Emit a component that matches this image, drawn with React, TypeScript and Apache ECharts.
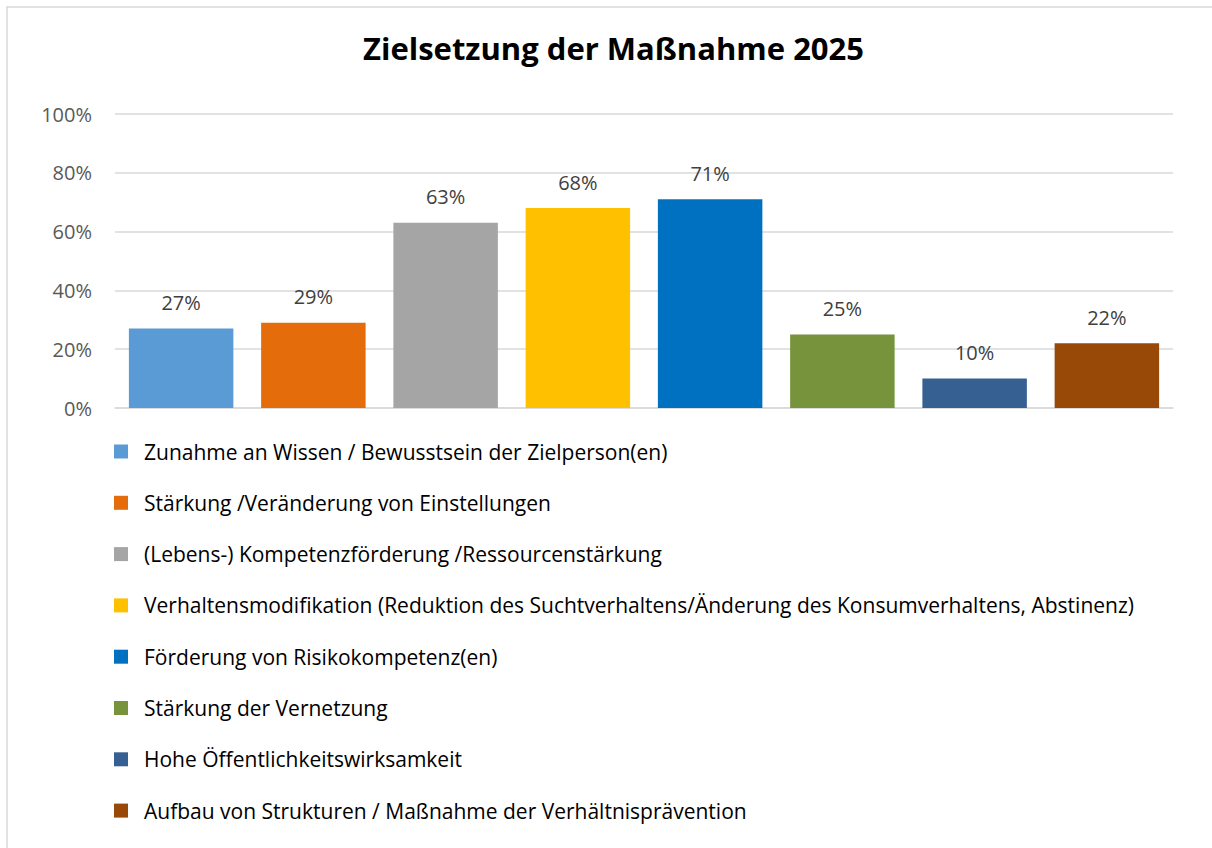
import React, { useEffect, useRef } from "react";
import * as echarts from "echarts";

const title = "Zielsetzung der Maßnahme 2025";
const categories = [
  "Zunahme an Wissen / Bewusstsein der Zielperson(en)",
  "Stärkung /Veränderung von Einstellungen",
  "(Lebens-) Kompetenzförderung /Ressourcenstärkung",
  "Verhaltensmodifikation (Reduktion des Suchtverhaltens/Änderung des Konsumverhaltens, Abstinenz)",
  "Förderung von Risikokompetenz(en)",
  "Stärkung der Vernetzung",
  "Hohe Öffentlichkeitswirksamkeit",
  "Aufbau von Strukturen / Maßnahme der Verhältnisprävention",
];
const values = [27, 29, 63, 68, 71, 25, 10, 22];
const colors = ["#5B9BD5", "#E46C0A", "#A5A5A5", "#FFC000", "#0070C0", "#77933C", "#376092", "#984807"];

const FONT = "'Open Sans', 'Noto Sans', sans-serif";

export default function App() {
  const ref = useRef<HTMLDivElement>(null);
  useEffect(() => {
    if (!ref.current) return;
    const chart = echarts.init(ref.current, null, { renderer: "svg" });
    chart.setOption({
      animation: false,
      backgroundColor: "#ffffff",
      textStyle: { fontFamily: FONT },
      title: {
        text: title,
        left: 358,
        top: 27,
        textStyle: { fontSize: 31, fontWeight: "bold", color: "#000000", fontFamily: FONT },
      },
      graphic: [
        {
          type: "rect",
          shape: { x: 7, y: 7, width: 1230, height: 870 },
          style: { fill: "none", stroke: "#D9D9D9", lineWidth: 1.5 },
          silent: true,
        },
      ],
      legend: {
        orient: "vertical",
        left: 109,
        top: 436,
        icon: "rect",
        itemWidth: 14,
        itemHeight: 14,
        itemGap: 30.3,
        data: categories,
        textStyle: {
          fontSize: 21,
          color: "#000000",
          fontFamily: FONT,
          lineHeight: 20,
          padding: [0, 0, 0, 11],
        },
      },
      grid: { left: 115, right: 39, top: 114, bottom: 440, containLabel: false },
      xAxis: {
        type: "category",
        data: categories,
        axisLabel: { show: false },
        axisTick: { show: false },
        axisLine: { show: true, lineStyle: { color: "#D9D9D9", width: 1.5 } },
      },
      yAxis: {
        type: "value",
        min: 0,
        max: 100,
        interval: 20,
        axisLabel: { formatter: "{value}%", fontSize: 20, color: "#595959", margin: 23, fontFamily: FONT },
        axisLine: { show: false },
        axisTick: { show: false },
        splitLine: { lineStyle: { color: "#D9D9D9", width: 1.5 } },
      },
      series: categories.map((name, i) => ({
        name,
        type: "bar",
        stack: "total",
        barWidth: "79%",
        data: values.map((v, j) => (j === i ? v : "-")),
        itemStyle: { color: colors[i] },
        label: {
          show: true,
          position: "top",
          distance: 16,
          formatter: "{c}%",
          fontSize: 20,
          color: "#404040",
          fontFamily: FONT,
        },
      })),
    });
    return () => chart.dispose();
  }, []);
  return (
    <div
      ref={ref}
      style={{ position: "absolute", left: 0, top: 0, width: 1212, height: 848 }}
    />
  );
}
